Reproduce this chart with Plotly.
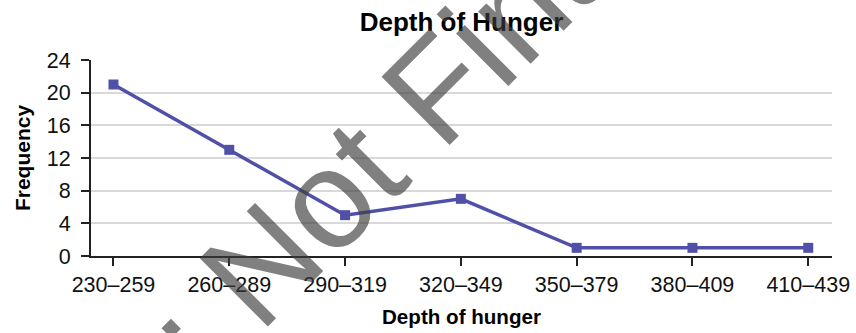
import plotly.graph_objects as go

categories = ["230–259", "260–289", "290–319", "320–349", "350–379", "380–409", "410–439"]
frequency = [21, 13, 5, 7, 1, 1, 1]
y_ticks = [0, 4, 8, 12, 16, 20, 24]

FONT = "Liberation Sans, Arial, sans-serif"

fig = go.Figure()
fig.add_trace(go.Scatter(
    x=list(range(len(categories))),
    y=frequency,
    mode="lines+markers",
    line=dict(color="rgb(80,80,168)", width=3.5),
    marker=dict(symbol="square", size=10, color="rgb(80,80,168)"),
    showlegend=False,
    cliponaxis=False,
))

fig.update_layout(
    width=856, height=333,
    margin=dict(l=91, r=24, t=60, b=77, autoexpand=False),
    paper_bgcolor="white", plot_bgcolor="white",
    font=dict(family=FONT, color="#111"),
    title=dict(text="<b>Depth of Hunger</b>", x=0.5, xref="paper", xanchor="center",
               y=1 - 22/333, yanchor="middle", font=dict(size=26, color="#000")),
)

fig.update_xaxes(
    tickmode="array", tickvals=list(range(len(categories))), ticktext=categories,
    range=[-0.194, 6.205], automargin=False,
    showline=True, linecolor="#222", linewidth=2,
    ticks="outside", ticklen=8, tickwidth=2, tickcolor="#222",
    showgrid=False, zeroline=False,
    tickfont=dict(size=21.5, color="#111"),
    title=dict(text="<b>Depth of hunger</b>", font=dict(size=20.6, color="#000"), standoff=14),
)
fig.update_yaxes(
    tickmode="array", tickvals=y_ticks,
    range=[0, 24], automargin=False,
    showline=True, linecolor="#222", linewidth=2,
    ticks="outside", ticklen=8, tickwidth=2, tickcolor="#222",
    ticklabelstandoff=6,
    showgrid=True, gridcolor="#d9d9d9", gridwidth=1.5,
    zeroline=False,
    tickfont=dict(size=21.5, color="#111"),
    title=dict(text="<b>Frequency</b>", font=dict(size=21, color="#000"), standoff=10),
)

fig.add_annotation(
    text="Draft: Not Final", xref="paper", yref="paper",
    x=(288 - 91) / 741, y=(256 - 237) / 196, xanchor="center", yanchor="middle",
    showarrow=False, textangle=-45,
    font=dict(family=FONT, size=140, color="rgba(60,60,60,0.65)"),
)

fig.write_html("out.html", config={"displayModeBar": False},
               post_script="document.body.style.margin='0';document.body.style.padding='0';")
